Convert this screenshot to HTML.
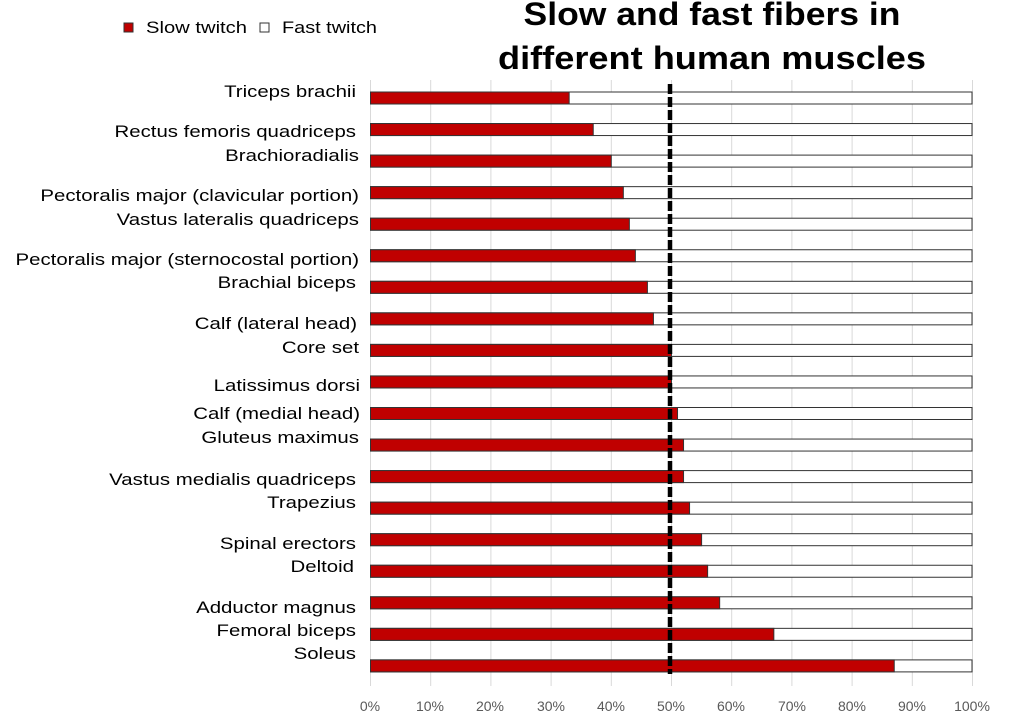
<!DOCTYPE html>
<html><head><meta charset="utf-8"><style>
body{margin:0;background:#fff;}
svg{display:block;font-family:"Liberation Sans",sans-serif;}
</style></head><body>
<svg width="1010" height="717" viewBox="0 0 1010 717" xmlns="http://www.w3.org/2000/svg">
<g stroke="#d9d9d9" stroke-width="1">
<line x1="370.5" y1="80" x2="370.5" y2="686"/><line x1="430.7" y1="80" x2="430.7" y2="686"/><line x1="490.9" y1="80" x2="490.9" y2="686"/><line x1="551.1" y1="80" x2="551.1" y2="686"/><line x1="611.3" y1="80" x2="611.3" y2="686"/><line x1="671.5" y1="80" x2="671.5" y2="686"/><line x1="731.7" y1="80" x2="731.7" y2="686"/><line x1="791.9" y1="80" x2="791.9" y2="686"/><line x1="852.1" y1="80" x2="852.1" y2="686"/><line x1="912.3" y1="80" x2="912.3" y2="686"/><line x1="972.5" y1="80" x2="972.5" y2="686"/>
</g>
<g id="bars" stroke="#333" stroke-width="1"></g>
<line x1="670" y1="84" x2="670" y2="674" stroke="#000" stroke-width="4.5" stroke-dasharray="10,3"/>
<g font-size="17" fill="#000" text-anchor="end" id="labels"></g>
<g font-size="14" fill="#595959" text-anchor="middle">
<text x="370" y="711">0%</text><text x="430" y="711">10%</text><text x="490" y="711">20%</text><text x="551" y="711">30%</text><text x="611" y="711">40%</text><text x="671" y="711">50%</text><text x="731" y="711">60%</text><text x="792" y="711">70%</text><text x="852" y="711">80%</text><text x="912" y="711">90%</text><text x="972" y="711">100%</text>
</g>
<g font-size="32" font-weight="bold" text-anchor="middle" fill="#000">
<text class="w" data-l="377" x="712" y="25">Slow and fast fibers in</text>
<text class="w" data-l="428" x="712" y="69">different human muscles</text>
</g>
<rect x="124" y="23" width="9" height="9" fill="#c00000" stroke="#333" stroke-width="1"/>
<text class="w" data-l="101" x="146" y="33" font-size="17">Slow twitch</text>
<rect x="260" y="23" width="9" height="9" fill="#fff" stroke="#333" stroke-width="1"/>
<text class="w" data-l="95" x="282" y="33" font-size="17">Fast twitch</text>
<script>
var d=[["Triceps brachii",33,91,356],["Rectus femoris quadriceps",37,131,356],["Brachioradialis",40,155,359],["Pectoralis major (clavicular portion)",42,195,359],["Vastus lateralis quadriceps",43,219,359],["Pectoralis major (sternocostal portion)",44,259,359],["Brachial biceps",46,282,356],["Calf (lateral head)",47,323,357],["Core set",50,347,359],["Latissimus dorsi",50,385,360],["Calf (medial head)",51,413,360],["Gluteus maximus",52,437,359],["Vastus medialis quadriceps",52,479,356],["Trapezius",53,502,356],["Spinal erectors",55,543,356],["Deltoid",56,566,354],["Adductor magnus",58,607,356],["Femoral biceps",67,630,356],["Soleus",87,653,356]];
var ns="http://www.w3.org/2000/svg",b=document.getElementById("bars"),l=document.getElementById("labels");
d.forEach(function(r,i){var y=92+i*31.55;
var w=document.createElementNS(ns,"rect");w.setAttribute("x",370.5);w.setAttribute("y",y);w.setAttribute("width",601.5);w.setAttribute("height",12);w.setAttribute("fill","#fff");b.appendChild(w);
var s=document.createElementNS(ns,"rect");s.setAttribute("x",370.5);s.setAttribute("y",y);s.setAttribute("width",6.02*r[1]);s.setAttribute("height",12);s.setAttribute("fill","#c00000");b.appendChild(s);
var t=document.createElementNS(ns,"text");t.setAttribute("x",r[3]);t.setAttribute("y",r[2]+6);t.textContent=r[0];l.appendChild(t);
var n=t.getComputedTextLength();t.setAttribute("textLength",(n*1.2).toFixed(1));t.setAttribute("lengthAdjust","spacingAndGlyphs");});
document.querySelectorAll(".w").forEach(function(t){t.setAttribute("textLength",t.getAttribute("data-l"));t.setAttribute("lengthAdjust","spacingAndGlyphs");});
</script>
</svg>
</body></html>
